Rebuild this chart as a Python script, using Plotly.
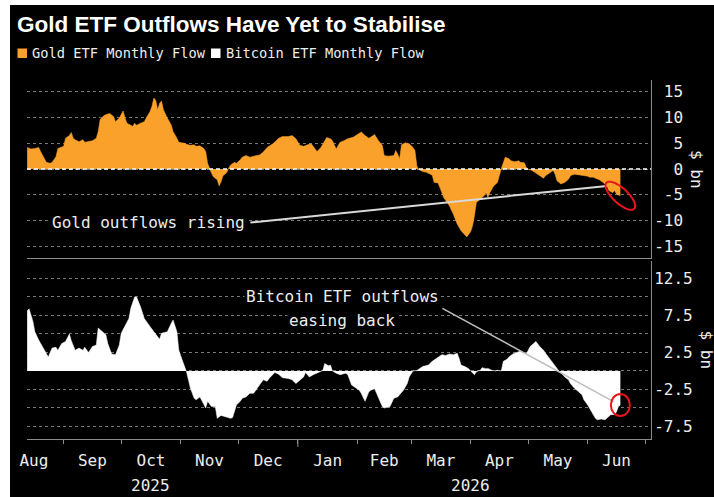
import math
import plotly.graph_objects as go

# ---------------- data ----------------
gold_dates = [
    "2025-08-13", "2025-08-15", "2025-08-17", "2025-08-19", "2025-08-20", "2025-08-22", "2025-08-23",
    "2025-08-25", "2025-08-26", "2025-08-28", "2025-08-29", "2025-09-01", "2025-09-02", "2025-09-04",
    "2025-09-05", "2025-09-06", "2025-09-07", "2025-09-09", "2025-09-11", "2025-09-12", "2025-09-14",
    "2025-09-16", "2025-09-18", "2025-09-19", "2025-09-20", "2025-09-22", "2025-09-24", "2025-09-25",
    "2025-09-27", "2025-09-28", "2025-09-30", "2025-10-02", "2025-10-03", "2025-10-04", "2025-10-06",
    "2025-10-07", "2025-10-08", "2025-10-09", "2025-10-11", "2025-10-13", "2025-10-14", "2025-10-16",
    "2025-10-17", "2025-10-18", "2025-10-19", "2025-10-20", "2025-10-21", "2025-10-22", "2025-10-23",
    "2025-10-24", "2025-10-25", "2025-10-27", "2025-10-28", "2025-10-30", "2025-10-31", "2025-11-03",
    "2025-11-04", "2025-11-06", "2025-11-08", "2025-11-09", "2025-11-11", "2025-11-13", "2025-11-14",
    "2025-11-15", "2025-11-16", "2025-11-17", "2025-11-18", "2025-11-20", "2025-11-21", "2025-11-22",
    "2025-11-23", "2025-11-25", "2025-11-26", "2025-11-27", "2025-11-29", "2025-11-30", "2025-12-02",
    "2025-12-03", "2025-12-05", "2025-12-07", "2025-12-09", "2025-12-12", "2025-12-14", "2025-12-16",
    "2025-12-19", "2025-12-22", "2025-12-24", "2025-12-27", "2025-12-29", "2025-12-31", "2026-01-02",
    "2026-01-04", "2026-01-06", "2026-01-08", "2026-01-10", "2026-01-11", "2026-01-13", "2026-01-14",
    "2026-01-16", "2026-01-18", "2026-01-19", "2026-01-21", "2026-01-23", "2026-01-25", "2026-01-27",
    "2026-01-30", "2026-02-02", "2026-02-03", "2026-02-05", "2026-02-07", "2026-02-08", "2026-02-10",
    "2026-02-12", "2026-02-14", "2026-02-15", "2026-02-17", "2026-02-20", "2026-02-21", "2026-02-22",
    "2026-02-23", "2026-02-24", "2026-02-26", "2026-02-28", "2026-03-02", "2026-03-03", "2026-03-04",
    "2026-03-05", "2026-03-07", "2026-03-09", "2026-03-10", "2026-03-12", "2026-03-13", "2026-03-15",
    "2026-03-16", "2026-03-18", "2026-03-20", "2026-03-21", "2026-03-23", "2026-03-25", "2026-03-27",
    "2026-03-29", "2026-03-30", "2026-04-01", "2026-04-02", "2026-04-03", "2026-04-04", "2026-04-06",
    "2026-04-08", "2026-04-09", "2026-04-10", "2026-04-11", "2026-04-13", "2026-04-15", "2026-04-16",
    "2026-04-17", "2026-04-18", "2026-04-19", "2026-04-21", "2026-04-22", "2026-04-24", "2026-04-26",
    "2026-04-27", "2026-04-29", "2026-04-30", "2026-05-01", "2026-05-03", "2026-05-05", "2026-05-07",
    "2026-05-09", "2026-05-10", "2026-05-12", "2026-05-14", "2026-05-15", "2026-05-16", "2026-05-18",
    "2026-05-20", "2026-05-22", "2026-05-23", "2026-05-25", "2026-05-28", "2026-05-30", "2026-06-01",
    "2026-06-02", "2026-06-04", "2026-06-05", "2026-06-07", "2026-06-09", "2026-06-11", "2026-06-12",
    "2026-06-14", "2026-06-15", "2026-06-16", "2026-06-18",
]
gold_flow = [
    4.2, 3.9, 4.0, 4.2, 3.4, 1.8, 1.3,
    1.1, 1.3, 2.4, 4.0, 4.4, 6.0, 6.5,
    7.1, 6.0, 5.7, 5.3, 5.7, 5.2, 5.3,
    5.5, 6.0, 7.3, 9.6, 10.4, 10.7, 10.8,
    10.2, 9.2, 9.9, 11.3, 9.9, 8.9, 8.5,
    8.3, 8.9, 8.5, 8.9, 9.2, 9.9, 11.2,
    12.2, 13.8, 13.3, 11.5, 12.8, 13.2, 11.5,
    10.5, 9.9, 8.6, 7.3, 6.0, 5.2, 5.0,
    4.8, 4.6, 4.7, 4.4, 4.5, 4.0, 3.4,
    1.1, 0.0, -0.8, -1.5, -2.1, -3.3, -2.5,
    -1.3, -0.7, 0.2, 0.8, 1.3, 1.1, 1.8,
    2.3, 2.6, 2.3, 2.5, 2.7, 3.3, 4.2,
    4.9, 6.0, 6.3, 6.3, 6.5, 5.9, 4.6,
    4.4, 4.7, 4.9, 3.9, 3.4, 4.2, 4.9,
    6.1, 5.9, 5.5, 3.9, 5.2, 5.5, 5.9,
    6.2, 7.0, 7.2, 6.5, 6.0, 6.2, 6.7,
    5.5, 4.6, 2.6, 2.5, 2.6, 3.6, 2.9,
    2.0, 4.7, 5.1, 4.9, 4.2, 3.6, 0.6,
    -0.1, -0.5, -0.65, -0.8, -1.2, -2.6, -2.7,
    -3.6, -5.6, -6.6, -7.2, -8.8, -10.7, -12.0,
    -12.7, -13.2, -12.2, -11.1, -9.1, -6.5, -5.9,
    -5.2, -4.6, -5.5, -4.6, -3.3, -2.6, -1.0,
    0.1, 1.2, 2.3, 2.0, 1.6, 1.4, 1.6,
    1.3, 1.2, 0.3, -0.05, -0.3, -0.8, -1.2,
    -1.8, -1.3, -0.8, -0.3, -1.0, -2.3, -2.9,
    -2.6, -2.0, -1.3, -1.0, -1.2, -1.2, -1.4,
    -1.6, -1.6, -1.8, -2.1, -2.6, -3.3, -4.2,
    -4.6, -4.2, -4.9, -5.2,
]

btc_dates = [
    "2025-08-13", "2025-08-14", "2025-08-16", "2025-08-17", "2025-08-19", "2025-08-21", "2025-08-22",
    "2025-08-24", "2025-08-26", "2025-08-28", "2025-08-29", "2025-08-31", "2025-09-02", "2025-09-04",
    "2025-09-05", "2025-09-07", "2025-09-09", "2025-09-11", "2025-09-12", "2025-09-14", "2025-09-16",
    "2025-09-18", "2025-09-19", "2025-09-21", "2025-09-23", "2025-09-24", "2025-09-26", "2025-09-28",
    "2025-09-30", "2025-10-01", "2025-10-03", "2025-10-05", "2025-10-06", "2025-10-08", "2025-10-09",
    "2025-10-11", "2025-10-13", "2025-10-14", "2025-10-16", "2025-10-18", "2025-10-20", "2025-10-21",
    "2025-10-22", "2025-10-25", "2025-10-27", "2025-10-28", "2025-10-30", "2025-10-31", "2025-11-02",
    "2025-11-03", "2025-11-04", "2025-11-05", "2025-11-06", "2025-11-08", "2025-11-09", "2025-11-11",
    "2025-11-13", "2025-11-14", "2025-11-15", "2025-11-17", "2025-11-19", "2025-11-20", "2025-11-22",
    "2025-11-25", "2025-11-27", "2025-11-28", "2025-11-29", "2025-11-30", "2025-12-02", "2025-12-03",
    "2025-12-05", "2025-12-07", "2025-12-09", "2025-12-10", "2025-12-12", "2025-12-14", "2025-12-16",
    "2025-12-17", "2025-12-20", "2025-12-22", "2025-12-24", "2025-12-27", "2025-12-29", "2025-12-31",
    "2026-01-02", "2026-01-04", "2026-01-05", "2026-01-07", "2026-01-09", "2026-01-11", "2026-01-13",
    "2026-01-14", "2026-01-15", "2026-01-17", "2026-01-18", "2026-01-19", "2026-01-21", "2026-01-23",
    "2026-01-26", "2026-01-27", "2026-01-29", "2026-01-31", "2026-02-02", "2026-02-03", "2026-02-05",
    "2026-02-07", "2026-02-08", "2026-02-10", "2026-02-12", "2026-02-14", "2026-02-15", "2026-02-18",
    "2026-02-20", "2026-02-22", "2026-02-23", "2026-02-25", "2026-02-27", "2026-02-28", "2026-03-02",
    "2026-03-04", "2026-03-07", "2026-03-09", "2026-03-10", "2026-03-12", "2026-03-14", "2026-03-16",
    "2026-03-17", "2026-03-19", "2026-03-21", "2026-03-23", "2026-03-25", "2026-03-26", "2026-03-27",
    "2026-03-29", "2026-03-31", "2026-04-01", "2026-04-02", "2026-04-03", "2026-04-04", "2026-04-06",
    "2026-04-07", "2026-04-09", "2026-04-10", "2026-04-12", "2026-04-14", "2026-04-15", "2026-04-17",
    "2026-04-18", "2026-04-20", "2026-04-21", "2026-04-23", "2026-04-25", "2026-04-27", "2026-04-28",
    "2026-04-30", "2026-05-02", "2026-05-03", "2026-05-05", "2026-05-07", "2026-05-09", "2026-05-10",
    "2026-05-12", "2026-05-14", "2026-05-16", "2026-05-17", "2026-05-18", "2026-05-20", "2026-05-22",
    "2026-05-23", "2026-05-25", "2026-05-27", "2026-05-29", "2026-05-30", "2026-06-01", "2026-06-03",
    "2026-06-05", "2026-06-06", "2026-06-08", "2026-06-10", "2026-06-12", "2026-06-13", "2026-06-15",
    "2026-06-16", "2026-06-17", "2026-06-18",
]
btc_flow = [
    8.1, 8.4, 6.7, 5.3, 4.2, 3.3, 2.7,
    1.9, 3.1, 3.2, 2.8, 3.7, 4.0, 5.0,
    4.1, 2.8, 3.1, 2.8, 3.2, 2.5, 3.3,
    3.5, 5.8, 5.4, 4.9, 3.7, 2.3, 2.2,
    3.5, 5.1, 6.2, 7.1, 8.5, 10.0, 10.0,
    8.7, 7.1, 6.7, 6.0, 5.3, 4.6, 4.3,
    5.1, 5.3, 6.4, 6.9, 5.3, 2.8, 1.3,
    0.6, -0.1, -1.2, -2.3, -3.7, -3.9, -3.5,
    -4.6, -5.0, -4.1, -4.8, -4.8, -6.4, -6.0,
    -6.2, -6.4, -6.3, -5.3, -4.6, -4.1, -3.7,
    -3.5, -3.0, -3.0, -2.6, -1.9, -1.2, -1.4,
    -1.0, -0.2, -0.45, -0.9, -1.0, -1.2, -1.7,
    -1.2, -0.8, -0.2, -0.8, -0.5, -0.3, -0.1,
    0.05, 1.0, 0.7, 0.8, 0.0, -0.3, -0.5,
    -0.3, -0.5, -1.9, -2.3, -2.6, -3.0, -4.1,
    -2.8, -2.6, -2.4, -3.7, -4.8, -5.0, -4.8,
    -3.7, -3.5, -3.2, -2.6, -1.7, -0.8, 0.0,
    0.05, 0.6, 0.8, 0.8, 1.3, 1.7, 2.1,
    2.2, 2.1, 2.3, 2.2, 2.4, 1.7, 0.8,
    0.6, 0.3, 0.0, -0.2, -0.5, -0.1, 0.1,
    0.45, 0.3, 0.35, 0.1, 0.0, 0.1, 0.0,
    1.3, 1.6, 1.9, 2.3, 2.5, 2.7, 2.5,
    2.3, 3.3, 3.5, 4.0, 3.3, 2.8, 2.4,
    1.7, 1.0, 0.35, 0.0, -0.2, -0.8, -1.2,
    -1.7, -2.3, -2.8, -3.2, -3.9, -4.6, -5.5,
    -6.4, -6.6, -6.5, -6.6, -6.2, -5.9, -5.9,
    -5.5, -4.8, -4.6,
]

top_tick_vals = [15, 10, 5, 0, -5, -10, -15]
top_tick_text = ["15", "10", "5", "0", "-5", "-10", "-15"]
bot_tick_vals = [12.5, 10, 7.5, 5, 2.5, 0, -2.5, -5, -7.5]
bot_tick_text = ["12.5", "", "7.5", "", "2.5", "", "-2.5", "", "-7.5"]

title_text = "Gold ETF Outflows Have Yet to Stabilise"
gold_name = "Gold ETF Monthly Flow"
btc_name = "Bitcoin ETF Monthly Flow"
unit_label = "$ bn"
gold_note = "Gold outflows rising"
btc_note_lines = ["Bitcoin ETF outflows", "easing back"]
year_labels = ["2025", "2026"]
year_label_dates = ["2025-10-16", "2026-04-01"]

# ---------------- styling / layout ----------------
ORANGE = "#F9A12B"
WHITE = "#FFFFFF"
TEXT = "#EDEDED"
GRID = "#767676"
AXIS = "#8c8c8c"
RED = "#E8161C"
MONO = "DejaVu Sans Mono"

W, H = 714, 497
ML, MR, MT, MB = 27, 63, 80, 58
PW, PH = W - ML - MR, H - MT - MB
PANEL = 178
top_dom = [1 - PANEL / PH, 1]
bot_dom = [0, PANEL / PH]

X_RANGE = ["2025-08-12 22:00", "2026-07-03 23:00"]
TOP_RANGE = [-17.3, 17.3]
BOT_RANGE = [-9.19, 14.86]


def px_x(px):
    return (px - ML) / PW


def px_y(py):
    return (H - MB - py) / PH


def pad(labels):
    n = max(len(s) for s in labels)
    return ["\u00a0" * (n - len(s)) + s if s else "" for s in labels]


fig = go.Figure()
fig.add_trace(go.Scatter(
    x=gold_dates, y=gold_flow, mode="lines", fill="tozeroy",
    line=dict(color=ORANGE, width=0.5), fillcolor=ORANGE,
    xaxis="x", yaxis="y", showlegend=False, hoverinfo="skip", name=gold_name))
fig.add_trace(go.Scatter(
    x=btc_dates, y=btc_flow, mode="lines", fill="tozeroy",
    line=dict(color=WHITE, width=0.5), fillcolor=WHITE,
    xaxis="x2", yaxis="y2", showlegend=False, hoverinfo="skip", name=btc_name))

yaxis_common = dict(
    side="right", showgrid=True, gridcolor=GRID, griddash="dot", gridwidth=1,
    zeroline=False, showline=True, linecolor=AXIS, linewidth=1, ticks="",
    tickfont=dict(family=MONO, size=16, color=TEXT), ticklabelstandoff=-1,
    fixedrange=True,
)

fig.update_layout(
    width=W, height=H,
    margin=dict(l=ML, r=MR, t=MT, b=MB, pad=0),
    paper_bgcolor="white", plot_bgcolor="black",
    showlegend=False,
    title=dict(text="<b>" + title_text + "</b>", x=17 / W, xanchor="left", xref="container",
               y=1 - 24 / H, yanchor="middle", yref="container",
               font=dict(family="Liberation Sans", size=22.5, color=WHITE)),
    xaxis=dict(domain=[0, 1], anchor="y", type="date", range=X_RANGE, showticklabels=False,
               showgrid=False, zeroline=False, showline=True, linecolor=AXIS, ticks="",
               fixedrange=True),
    xaxis2=dict(domain=[0, 1], anchor="y2", type="date", range=X_RANGE, matches="x",
                tick0="2025-08-01", dtick="M1", tickformat="%b", ticklabelmode="period",
                ticks="outside", ticklen=4, tickcolor=AXIS, showgrid=False, zeroline=False,
                showline=True, linecolor=AXIS, ticklabelstandoff=3,
                tickfont=dict(family=MONO, size=16, color=TEXT)),
    yaxis=dict(domain=top_dom, anchor="x", range=TOP_RANGE,
               tickvals=top_tick_vals, ticktext=pad(top_tick_text), **yaxis_common),
    yaxis2=dict(domain=bot_dom, anchor="x2", range=BOT_RANGE,
                tickvals=bot_tick_vals, ticktext=pad(bot_tick_text), **yaxis_common),
)

shapes = []
# black page area (the screenshot has a thin white margin at left/top)
shapes.append(dict(type="rect", xref="paper", yref="paper", layer="below",
                   x0=px_x(10), x1=px_x(W + 5), y0=px_y(H + 5), y1=px_y(5),
                   fillcolor="black", line=dict(width=0)))
# dashed zero line in gold panel
shapes.append(dict(type="line", xref="x domain", yref="y", x0=0, x1=1, y0=0, y1=0,
                   line=dict(color=WHITE, width=1.5, dash="4px,3px")))
# longer year-boundary tick
shapes.append(dict(type="line", xref="x2", yref="paper", x0="2026-01-01", x1="2026-01-01",
                   ysizemode="pixel", yanchor=0, y0=0, y1=-8, line=dict(color=AXIS, width=1)))

# leader lines
gold_head = gold_dates.index("2026-06-11")
shapes.append(dict(type="line", xref="x", yref="y",
                   x0="2025-12-07 07:00", y0=-10.4,
                   x1=gold_dates[gold_head], y1=gold_flow[gold_head],
                   line=dict(color="#d9d9d9", width=2)))
shapes.append(dict(type="line", xref="x2", yref="y2",
                   x0="2026-03-17 07:00", y0=8.47, x1="2026-06-14 12:00", y1=-4.15,
                   line=dict(color="#bdbdbd", width=1.5)))

# red tilted ellipse around latest gold value (pixel-sized, anchored at data point)
a, b, ang = 19.0, 7.5, math.radians(43)
pts = []
for k in range(49):
    t = 2 * math.pi * k / 48
    ex, ey = a * math.cos(t), b * math.sin(t)
    dx = ex * math.cos(ang) - ey * math.sin(ang)
    dy_down = ex * math.sin(ang) + ey * math.cos(ang)
    pts.append(f"{dx:.2f},{-dy_down:.2f}")
path = "M" + " L".join(pts) + " Z"
shapes.append(dict(type="path", xref="x", yref="y", xsizemode="pixel", ysizemode="pixel",
                   xanchor=gold_dates[-1], yanchor=gold_flow[-1], path=path,
                   line=dict(color=RED, width=2)))
# red circle around latest bitcoin value
shapes.append(dict(type="circle", xref="x2", yref="y2", xsizemode="pixel", ysizemode="pixel",
                   xanchor=btc_dates[-1], yanchor=btc_flow[-1], x0=-9.5, x1=9.5, y0=-11, y1=11,
                   line=dict(color=RED, width=2)))

# legend squares
shapes.append(dict(type="rect", xref="paper", yref="paper", x0=px_x(17.5), x1=px_x(27),
                   y0=px_y(58), y1=px_y(48.5), fillcolor=ORANGE, line=dict(width=0)))
shapes.append(dict(type="rect", xref="paper", yref="paper", x0=px_x(211), x1=px_x(220.5),
                   y0=px_y(58), y1=px_y(48.5), fillcolor=WHITE, line=dict(width=0)))
fig.update_layout(shapes=shapes)

ann = []
ann.append(dict(text=gold_name, xref="paper", yref="paper", x=px_x(29.5), y=px_y(53),
                xanchor="left", yanchor="middle", showarrow=False,
                font=dict(family=MONO, size=13.7, color=TEXT)))
ann.append(dict(text=btc_name, xref="paper", yref="paper", x=px_x(223.5), y=px_y(53),
                xanchor="left", yanchor="middle", showarrow=False,
                font=dict(family=MONO, size=13.7, color=TEXT)))
ann.append(dict(text=gold_note, xref="x", yref="y", x="2025-10-15", y=-10.45,
                xanchor="center", yanchor="middle", showarrow=False, bgcolor="black",
                font=dict(family=MONO, size=16, color=TEXT)))
ann.append(dict(text=btc_note_lines[0], xref="x2", yref="y2", x="2026-01-24 06:00", y=10.04,
                xanchor="center", yanchor="middle", showarrow=False, bgcolor="black",
                font=dict(family=MONO, size=16, color=TEXT)))
ann.append(dict(text=btc_note_lines[1], xref="x2", yref="y2", x="2026-01-24 06:00", y=6.76,
                xanchor="center", yanchor="middle", showarrow=False, bgcolor="black",
                font=dict(family=MONO, size=16, color=TEXT)))
for lab, d in zip(year_labels, year_label_dates):
    ann.append(dict(text=lab, xref="x2", yref="paper", x=d, y=px_y(485),
                    xanchor="center", yanchor="middle", showarrow=False,
                    font=dict(family=MONO, size=16, color=TEXT)))
ann.append(dict(text=unit_label, xref="paper", yref="paper", x=px_x(697), y=sum(top_dom) / 2,
                xanchor="center", yanchor="middle", showarrow=False, textangle=90,
                font=dict(family=MONO, size=16, color=TEXT)))
ann.append(dict(text=unit_label, xref="paper", yref="paper", x=px_x(706.5), y=sum(bot_dom) / 2,
                xanchor="center", yanchor="middle", showarrow=False, textangle=90,
                font=dict(family=MONO, size=16, color=TEXT)))
fig.update_layout(annotations=ann)

# remove the browser's default 8px body margin so the figure sits at the page origin
fig.write_html("out.html",
               config={"displayModeBar": False, "staticPlot": True},
               post_script="document.body.style.margin='0';document.body.style.overflow='hidden';")
